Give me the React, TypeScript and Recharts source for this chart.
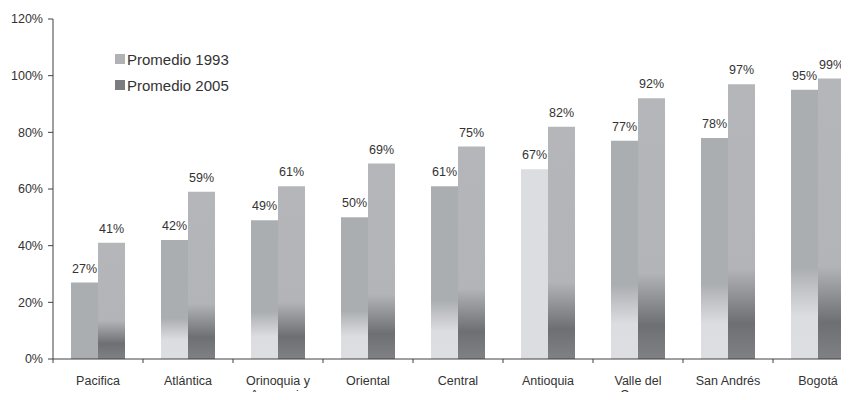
import { Bar, BarChart, Cell, LabelList, XAxis, YAxis } from "recharts";

const regions = [
  "Pacifica",
  "Atlántica",
  "Orinoquia y Amazonia",
  "Oriental",
  "Central",
  "Antioquia",
  "Valle del Cauca",
  "San Andrés",
  "Bogotá",
];
const promedio1993 = [27, 42, 49, 50, 61, 67, 77, 78, 95];
const promedio2005 = [41, 59, 61, 69, 75, 82, 92, 97, 99];
const yTicks = [0, 20, 40, 60, 80, 100, 120];
// 1993 bars that the source prints flat instead of shaded
const flatFill1993: Record<string, string> = {
  Pacifica: "#abaeb1",
  Antioquia: "#dcdde0",
};

const data = regions.map((region, i) => ({
  region,
  p1993: promedio1993[i],
  p2005: promedio2005[i],
}));

const FONT = "'Liberation Sans', Arial, sans-serif";
const INK = "#333";
const AXIS = "#404040";
const WIDTH = 872;
const MARGIN = { top: 19, right: 9, left: 0, bottom: 0 };
const Y_WIDTH = 53;
const BAND = (WIDTH - MARGIN.left - MARGIN.right - Y_WIDTH) / regions.length;

function splitLabel(label: string) {
  if (label.length <= 11) return [label];
  const cut = label.lastIndexOf(" ");
  return [label.slice(0, cut), label.slice(cut + 1)];
}

function RegionTick(props: any) {
  const { x, y, payload } = props;
  const lines = splitLabel(String(payload.value));
  return (
    <g>
      <line x1={x - BAND / 2} x2={x - BAND / 2} y1={y} y2={y + 4} stroke={AXIS} />
      <text x={x} y={y + 26} textAnchor="middle" fill={INK} fontSize={12.5} fontFamily={FONT}>
        {lines.map((line, i) => (
          <tspan key={i} x={x} dy={i === 0 ? 0 : 13.5}>
            {line}
          </tspan>
        ))}
      </text>
    </g>
  );
}

function LegendBox() {
  const rows = [
    { label: "Promedio 1993", color: "#b1b2b5" },
    { label: "Promedio 2005", color: "#7b7c80" },
  ];
  return (
    <div style={{ position: "absolute", left: 115, top: 54, fontFamily: FONT, fontSize: 15, color: INK }}>
      {rows.map((row) => (
        <div key={row.label} style={{ position: "relative", height: 26, width: 130 }}>
          <div style={{ position: "absolute", left: 0, top: 0, width: 10, height: 10, background: row.color }} />
          <div style={{ position: "absolute", left: 12, top: -2, lineHeight: "15px", whiteSpace: "nowrap" }}>
            {row.label}
          </div>
        </div>
      ))}
    </div>
  );
}

export default function App() {
  return (
    <div
      style={{ margin: -8, width: 849, height: 400, overflow: "hidden", background: "#fff", position: "relative" }}
    >
      <BarChart
        width={WIDTH}
        height={400}
        data={data}
        margin={MARGIN}
        barCategoryGap="20%"
        barGap={0}
      >
        <defs>
          <linearGradient id="g1993" x1="0" y1="0" x2="0" y2="1">
            <stop offset="0%" stopColor="#abaeb1" />
            <stop offset="66%" stopColor="#abaeb1" />
            <stop offset="84%" stopColor="#dcdde0" />
            <stop offset="100%" stopColor="#dddee1" />
          </linearGradient>
          <linearGradient id="g2005" x1="0" y1="0" x2="0" y2="1">
            <stop offset="0%" stopColor="#b5b6b9" />
            <stop offset="67%" stopColor="#b3b4b7" />
            <stop offset="87%" stopColor="#6e6f73" />
            <stop offset="100%" stopColor="#808185" />
          </linearGradient>
        </defs>
        <XAxis
          dataKey="region"
          height={41}
          interval={0}
          tickSize={0}
          tickMargin={0}
          tickLine={false}
          axisLine={{ stroke: AXIS }}
          tick={<RegionTick />}
        />
        <YAxis
          width={Y_WIDTH}
          domain={[0, 120]}
          ticks={yTicks}
          tickFormatter={(v) => `${v}%`}
          tickSize={5}
          tickMargin={5}
          axisLine={{ stroke: AXIS }}
          tickLine={{ stroke: AXIS }}
          tick={{ fill: INK, fontSize: 12.5, fontFamily: FONT }}
        />
        <Bar dataKey="p1993" name="Promedio 1993" fill="url(#g1993)" isAnimationActive={false}>
          {data.map((d) => (
            <Cell key={d.region} fill={flatFill1993[d.region] ?? "url(#g1993)"} />
          ))}
          <LabelList
            dataKey="p1993"
            position="top"
            offset={10}
            formatter={(v: any) => `${v}%`}
            style={{ fill: INK, fontSize: 12.5, fontFamily: FONT }}
          />
        </Bar>
        <Bar dataKey="p2005" name="Promedio 2005" fill="url(#g2005)" isAnimationActive={false}>
          <LabelList
            dataKey="p2005"
            position="top"
            offset={10}
            formatter={(v: any) => `${v}%`}
            style={{ fill: INK, fontSize: 12.5, fontFamily: FONT }}
          />
        </Bar>
      </BarChart>
      <LegendBox />
    </div>
  );
}
